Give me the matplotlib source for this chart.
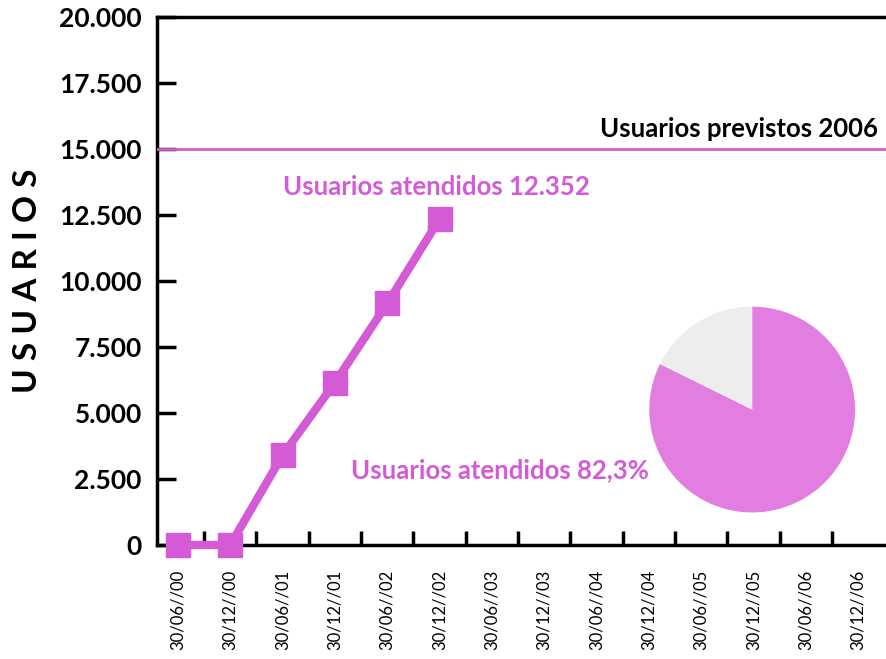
import matplotlib
matplotlib.use("Agg")
import matplotlib.pyplot as plt
import numpy as np

plt.rcParams['font.family'] = ['Lato', 'DejaVu Sans']

# data
fechas = ['30/06//00', '30/12//00', '30/06//01', '30/12//01', '30/06//02', '30/12//02',
          '30/06//03', '30/12//03', '30/06//04', '30/12//04', '30/06//05', '30/12//05',
          '30/06//06', '30/12//06']
usuarios = [0, 0, 3400, 6150, 9150, 12352]
previstos = 15000
y_ticks = [0, 2500, 5000, 7500, 10000, 12500, 15000, 17500, 20000]
y_labels = ['0', '2.500', '5.000', '7.500', '10.000', '12.500', '15.000', '17.500', '20.000']
pie_vals = [82.3, 17.7]

magenta = '#d45ad6'
pie_pink = '#e27ee0'
pie_grey = '#ededed'

fig = plt.figure(figsize=(8.87, 6.59), dpi=100)
ax = fig.add_axes([0.177, 0.173, 0.823, 0.801])

x = np.arange(len(usuarios))
ax.plot(x, usuarios, color=magenta, lw=6, marker='s', ms=17, mfc=magenta, mec=magenta,
        clip_on=False, zorder=5, solid_joinstyle='miter')
ax.axhline(previstos, color=magenta, lw=2, zorder=3)

ax.set_xlim(-0.4, 13.55)
ax.set_ylim(0, 20000)

ax.set_xticks(np.arange(len(fechas)))
ax.set_xticklabels(fechas, rotation=90, fontsize=12)
ax.set_xticks(np.arange(len(fechas) - 1) + 0.5, minor=True)
ax.tick_params(axis='x', which='major', length=0, pad=18)
ax.tick_params(axis='x', which='minor', direction='in', length=10, width=2.5, color='black')

ax.set_yticks(y_ticks)
ax.set_yticklabels(y_labels, fontsize=19, fontweight='bold')
ax.tick_params(axis='y', direction='in', length=14, width=2.5, pad=11)

for s in ['left', 'top', 'bottom']:
    ax.spines[s].set_linewidth(2.5)
ax.spines['right'].set_visible(False)

ax.set_ylabel('U S U A R I O S', fontsize=24, fontweight='bold', labelpad=12)

ax.text(13.37, 15770, 'Usuarios previstos 2006', ha='right', va='center',
        fontsize=18.5, fontweight='bold', color='black')
ax.text(2.0, 13560, 'Usuarios atendidos 12.352', ha='left', va='center',
        fontsize=18.5, fontweight='bold', color=magenta)
ax.text(3.31, 2850, 'Usuarios atendidos 82,3%', ha='left', va='center',
        fontsize=18.5, fontweight='bold', color=magenta)

pax = fig.add_axes([0.848 - 0.116, 0.378 - 0.156, 0.232, 0.313])
pax.pie(pie_vals, colors=[pie_pink, pie_grey], startangle=90, counterclock=False,
        radius=1, wedgeprops=dict(linewidth=0))
pax.set_xlim(-1, 1)
pax.set_ylim(-1, 1)
pax.set_aspect('equal')

fig.savefig('out.png', dpi=100)
